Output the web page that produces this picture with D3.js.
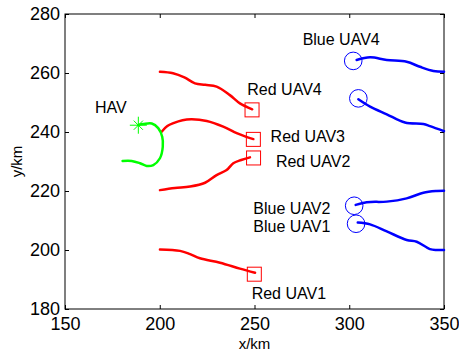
<!DOCTYPE html>
<html>
<head>
<meta charset="utf-8">
<script src="https://cdn.jsdelivr.net/npm/d3@7"></script>
<style>
  body { margin: 0; background: #fff; }
  text { font-family: "Liberation Sans", Arial, sans-serif; }
</style>
</head>
<body>
<div id="chart"></div>
<script>
// tracks, [x km, y km]
const red1 = [[200.1, 200.2], [210.7, 199.7], [216, 198.6], [221.2, 197.2], [231.8, 195.7], [242.3, 193.7], [250.3, 192.3]];
const red2 = [[200.1, 220.3], [208, 221], [216, 221.5], [223.9, 222.8], [230, 225.4], [235.3, 227.1], [238.8, 229.4], [243, 230.5], [247.6, 231.4]];
const red3 = [[201, 240.1], [204, 242], [207.2, 243], [212, 244], [216.9, 244.3], [224.8, 243.7], [233.5, 241.8], [240.6, 239.6], [245, 238.5], [249.4, 237.6]];
const red4 = [[200.1, 260.4], [207, 259.9], [213, 258.5], [218.6, 256.5], [224, 256], [230, 255.4], [237, 252.5], [242.3, 249.7], [248.8, 247.7]];
const blue1 = [[304.5, 209.3], [311, 208.7], [319.8, 206.3], [330.3, 203.4], [335.6, 202.8], [342.6, 200.3], [346.2, 200], [350, 200]];
const blue2 = [[303.4, 215.3], [309.2, 216.2], [319.8, 216.4], [330.3, 217.5], [339.1, 219.4], [346.2, 220], [350, 220.1]];
const blue3 = [[304.8, 251.1], [311, 248.6], [319.8, 246], [329.4, 243.2], [339.1, 242.7], [342.6, 242], [350, 240.3]];
const blue4 = [[303.9, 264.4], [311, 265.3], [319.8, 264.4], [330.3, 263.8], [337.3, 262.1], [344.4, 260.7], [350, 260.4]];
const hav = [[188.7, 242.4], [191.3, 242.7], [195.8, 242.9], [199.2, 241.3], [201.3, 238.4], [201.6, 235], [200.1, 231.1], [196.6, 228.8], [193.1, 228.5], [189.6, 229.4], [185.2, 230.2], [180.4, 230.2]];

const redMarks = [[249.9, 191.8], [249.5, 231.2], [249.4, 237.5], [248.7, 247.5]];
const blueMarks = [[303.6, 208.9], [302.6, 215], [304.8, 251.4], [302.1, 264.1]];
const havMark = [188.7, 242.3];

const labels = [
  ["HAV", 165.8, 246.3],
  ["Red UAV4", 246.2, 252.5],
  ["Red UAV3", 258.5, 236.7],
  ["Red UAV2", 261.3, 228.2],
  ["Red UAV1", 248.5, 183.4],
  ["Blue UAV4", 275.4, 269.5],
  ["Blue UAV2", 249.4, 212.1],
  ["Blue UAV1", 249.4, 206.2]
];

const xTicks = [150, 200, 250, 300, 350];
const yTicks = [180, 200, 220, 240, 260, 280];

const width = 459, height = 353;
const svg = d3.select("#chart").append("svg")
  .attr("width", width)
  .attr("height", height)
  .style("background", "#fff");

const x = d3.scaleLinear().domain([150, 350]).range([65, 444]);
const y = d3.scaleLinear().domain([180, 280]).range([309, 14]);

// axes, ticks pointing inward like matlab
svg.append("g")
  .attr("transform", `translate(0,${y(180)})`)
  .call(d3.axisBottom(x).tickValues(xTicks).tickSize(-4).tickSizeOuter(0).tickPadding(8))
  .call(g => g.select(".domain").remove());
svg.append("g")
  .attr("transform", `translate(0,${y(280)})`)
  .call(d3.axisTop(x).tickValues(xTicks).tickSize(-4).tickSizeOuter(0).tickFormat(""))
  .call(g => g.select(".domain").remove());
svg.append("g")
  .attr("transform", `translate(${x(150)},0)`)
  .call(d3.axisLeft(y).tickValues(yTicks).tickSize(-4).tickSizeOuter(0).tickPadding(5))
  .call(g => g.select(".domain").remove());
svg.append("g")
  .attr("transform", `translate(${x(350)},0)`)
  .call(d3.axisRight(y).tickValues(yTicks).tickSize(-4).tickSizeOuter(0).tickFormat(""))
  .call(g => g.select(".domain").remove());

svg.selectAll(".tick text")
  .attr("fill", "#000")
  .style("font-size", "18px")
  .style("font-family", "'Liberation Sans', Arial, sans-serif");
svg.selectAll(".tick line").attr("stroke", "#000");

svg.append("rect")
  .attr("x", x(150)).attr("y", y(280))
  .attr("width", x(350) - x(150)).attr("height", y(180) - y(280))
  .attr("fill", "none").attr("stroke", "#000").attr("stroke-width", 1);

svg.append("text")
  .attr("x", (x(150) + x(350)) / 2).attr("y", 349)
  .attr("text-anchor", "middle")
  .style("font-size", "15px")
  .text("x/km");
svg.append("text")
  .attr("transform", `translate(22,${(y(180) + y(280)) / 2}) rotate(-90)`)
  .attr("text-anchor", "middle")
  .style("font-size", "15px")
  .text("y/km");

const line = d3.line().x(d => x(d[0])).y(d => y(d[1])).curve(d3.curveCatmullRom);

const tracks = [
  [red1, "#ff0000"], [red2, "#ff0000"], [red3, "#ff0000"], [red4, "#ff0000"],
  [blue1, "#0000ff"], [blue2, "#0000ff"], [blue3, "#0000ff"], [blue4, "#0000ff"],
  [hav, "#00ff00"]
];

svg.append("g")
  .selectAll("path")
  .data(tracks)
  .enter()
  .append("path")
  .attr("d", d => line(d[0]))
  .attr("fill", "none")
  .attr("stroke", d => d[1])
  .attr("stroke-width", 2.5)
  .attr("stroke-linejoin", "round")
  .attr("stroke-linecap", "round");

const sq = 14;
svg.append("g")
  .selectAll("rect")
  .data(redMarks)
  .enter()
  .append("rect")
  .attr("x", d => x(d[0]) - sq / 2)
  .attr("y", d => y(d[1]) - sq / 2)
  .attr("width", sq).attr("height", sq)
  .attr("fill", "none")
  .attr("stroke", "#ff0000")
  .attr("stroke-width", 1);

svg.append("g")
  .selectAll("circle")
  .data(blueMarks)
  .enter()
  .append("circle")
  .attr("cx", d => x(d[0]))
  .attr("cy", d => y(d[1]))
  .attr("r", 8.8)
  .attr("fill", "none")
  .attr("stroke", "#0000ff")
  .attr("stroke-width", 1);

// star marker for the HAV
const star = svg.append("g")
  .attr("transform", `translate(${x(havMark[0])},${y(havMark[1])})`)
  .attr("stroke", "#00ff00")
  .attr("stroke-width", 1);
[0, 45, 90, 135].forEach(a => {
  const r = a % 90 === 0 ? 8.5 : 6.5;
  const c = Math.cos(a * Math.PI / 180), s = Math.sin(a * Math.PI / 180);
  star.append("line")
    .attr("x1", -r * c).attr("y1", -r * s)
    .attr("x2", r * c).attr("y2", r * s);
});

svg.append("g")
  .selectAll("text")
  .data(labels)
  .enter()
  .append("text")
  .attr("x", d => x(d[1]))
  .attr("y", d => y(d[2]))
  .style("font-size", "16px")
  .attr("fill", "#000")
  .text(d => d[0]);
</script>
</body>
</html>
